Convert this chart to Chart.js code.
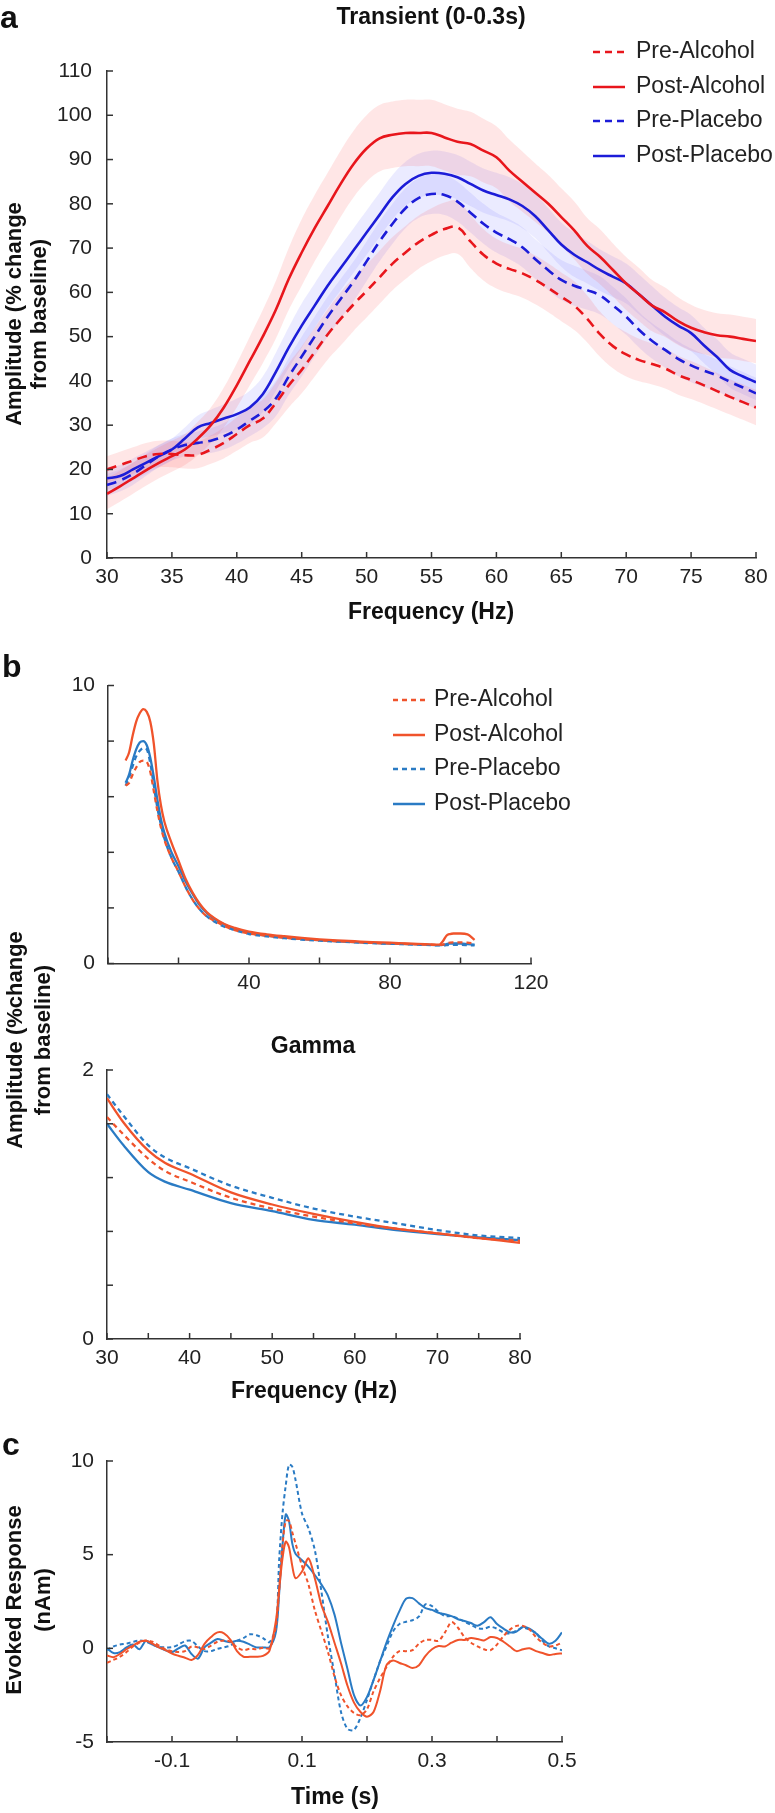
<!DOCTYPE html>
<html>
<head>
<meta charset="utf-8">
<script src="https://cdn.jsdelivr.net/npm/chart.js@4.4.1/dist/chart.umd.min.js"></script>
<style>
  body { margin: 0; background: #fff; }
  #page { position: relative; width: 775px; height: 1813px; overflow: hidden; }
  canvas { position: absolute; left: 0; }
</style>
</head>
<body>
<div id="page">
  <canvas id="chartA"></canvas>
  <canvas id="chartB1"></canvas>
  <canvas id="chartB2"></canvas>
  <canvas id="chartC"></canvas>
</div>
<script>
// ---- panel a: transient response, 30-80 Hz ----
const freqA = [30,31,32,33,34,35,36,37,38,39,40,41,42,43,44,45,46,47,48,49,50,51,52,53,54,55,56,57,58,59,60,61,62,63,64,65,66,67,68,69,70,71,72,73,74,75,76,77,78,79,80];
const preAlcA = [20,21,22,23,23.5,23.5,23.2,23.3,24.5,26,28,30,31.5,35,39,42.5,46.5,50.5,54,57.3,60.3,63.4,66.5,69,71.3,73,74.3,74.7,71.5,68.5,66.5,65.3,64.3,62.8,61,59,57,54,50.5,47.8,46,44.7,43.8,42.8,41.3,40.2,39,37.7,36.4,35.2,34];
const postAlcA = [14.5,16.2,18,19.8,21.5,23,24.5,27,30,34,39,44.5,50,56,63,69,74.5,79.5,84.5,89,92.5,94.8,95.6,96,96,96,95,94,93.5,92,90.5,87.5,85,82.5,80,77,74,70.5,68,65,62,59.5,57,55.5,53.5,52,51,50.3,50,49.5,49];
const prePlacA = [16.5,17.5,19,21,23,24.5,25.5,26,26.5,27.5,29,31,33,36,41,45.5,50,54.5,58.5,62.5,67,71.5,75.5,79,81.3,82.2,82,80.5,78,75.5,73.5,72,70.2,67.5,65,62.8,61.5,60.5,59.3,57,54.5,51.5,49,47,45,43.5,42.3,41.2,39.8,38.5,37.2];
const postPlacA = [18,18.5,20,21.5,23,24.5,27,29.5,30.5,31.5,32.5,34,37,42,47.5,52.5,57,61.5,65.5,69.5,73.5,77.5,81.5,84.5,86.3,87,86.8,86,84.5,83,82,81,79.5,77.2,74,70.8,68.5,66.8,65,63.5,62,59.5,57,54.5,52.5,50.8,48,45.4,42.5,41,39.7];
// shaded error (half-width of the bands)
const preAlcErr = [3,3,3,3,3,3,3,3,3.2,3.5,3.8,4,4.3,4.6,5,5.3,5.5,5.7,6,6,6,6,6,6,6,6,6,6,6,5.8,5.6,5.5,5.5,5.5,5.5,5.5,5.5,5.3,5.1,5,5,4.8,4.6,4.5,4.4,4.3,4.2,4.1,4,4,4];
const postAlcErr = [3.5,3.5,3.5,3.5,3.5,3.5,3.5,3.8,4,4.5,5,5.5,6,6.5,7,7.5,7.5,7.5,7.5,7.5,7.5,7.5,7.5,7.5,7.5,7.5,7.5,7.5,7.3,7.2,7,7,6.8,6.6,6.5,6.5,6.5,6.3,6.2,6,6,6,5.8,5.6,5.4,5.2,5,5,5,5,5];
const prePlacErr = [2.5,2.5,2.5,2.5,2.5,2.5,2.5,2.6,2.8,3,3.2,3.5,3.7,4,4.2,4.5,4.5,4.5,4.5,4.5,4.5,4.5,4.5,4.5,4.5,4.5,4.5,4.5,4.5,4.5,4.5,4.5,4.5,4.5,4.5,4.5,4.5,4.4,4.3,4.2,4.1,4,4,4,3.9,3.8,3.7,3.6,3.5,3.5,3.5];
const postPlacErr = [2.5,2.5,2.5,2.5,2.5,2.5,2.5,2.7,3,3.2,3.5,3.8,4,4.3,4.6,5,5,5,5,5,5,5,5,5,5,5,5,5,5,5,5,5,5,5,5,5,5,4.8,4.7,4.6,4.5,4.5,4.4,4.3,4.2,4.1,4,4,4,4,4];

// ---- panel b (top): full spectrum ----
const freqB = [5,6,7,8,9,10,11,12,13,14,15,16,18,20,22,24,26,28,30,33,36,40,45,50,55,60,65,70,75,80,85,90,94,95,96,97,98,100,102,104];
const preAlcB = [6.4,6.5,6.8,7.05,7.25,7.3,7.25,6.9,6.2,5.5,4.9,4.45,3.8,3.3,2.75,2.3,1.95,1.7,1.55,1.35,1.2,1.08,1,0.93,0.88,0.84,0.8,0.77,0.74,0.72,0.7,0.68,0.67,0.68,0.72,0.75,0.76,0.76,0.75,0.72];
const postAlcB = [7.3,7.6,8.2,8.7,9,9.15,9.05,8.7,7.9,6.6,5.7,5.1,4.35,3.7,3.05,2.55,2.15,1.85,1.65,1.42,1.28,1.15,1.05,0.98,0.92,0.87,0.83,0.8,0.77,0.75,0.72,0.7,0.68,0.8,1,1.06,1.08,1.08,1.05,0.85];
const prePlacB = [6.4,6.7,7.1,7.45,7.65,7.75,7.7,7.2,6.4,5.6,5,4.5,3.8,3.3,2.75,2.3,1.95,1.7,1.52,1.32,1.2,1.06,0.98,0.91,0.86,0.82,0.79,0.76,0.73,0.71,0.69,0.67,0.65,0.65,0.66,0.67,0.67,0.67,0.66,0.65];
const postPlacB = [6.5,6.8,7.3,7.7,7.95,8,7.85,7.4,6.7,5.9,5.2,4.7,4,3.5,2.95,2.5,2.1,1.82,1.62,1.4,1.25,1.1,1,0.93,0.88,0.84,0.8,0.77,0.74,0.72,0.7,0.68,0.66,0.67,0.7,0.72,0.72,0.72,0.7,0.68];

// ---- panel b (bottom): gamma ----
const freqG = [30,32,35,37,40,45,50,55,60,65,70,75,80];
const preAlcG = [1.65,1.52,1.34,1.25,1.17,1.05,0.97,0.91,0.86,0.82,0.785,0.75,0.73];
const postAlcG = [1.79,1.61,1.4,1.31,1.23,1.09,1,0.93,0.87,0.82,0.785,0.75,0.715];
const prePlacG = [1.82,1.66,1.44,1.35,1.27,1.14,1.05,0.97,0.91,0.86,0.81,0.77,0.75];
const postPlacG = [1.6,1.44,1.24,1.17,1.11,1.01,0.95,0.885,0.85,0.81,0.78,0.755,0.735];

// ---- panel c: evoked response ----
const timeC = [-0.2,-0.19,-0.18,-0.17,-0.16,-0.15,-0.14,-0.13,-0.12,-0.11,-0.1,-0.09,-0.08,-0.07,-0.06,-0.05,-0.04,-0.03,-0.02,-0.01,0,0.01,0.02,0.03,0.04,0.05,0.06,0.065,0.07,0.075,0.08,0.085,0.09,0.1,0.11,0.12,0.13,0.14,0.15,0.16,0.17,0.18,0.19,0.2,0.21,0.22,0.23,0.24,0.25,0.26,0.27,0.28,0.29,0.3,0.31,0.32,0.33,0.34,0.35,0.36,0.37,0.38,0.39,0.4,0.41,0.42,0.43,0.44,0.45,0.46,0.47,0.48,0.49,0.5];
const preAlcC = [-0.77,-0.62,-0.45,-0.2,0.1,0.3,0.42,0.35,0.15,-0.05,-0.15,-0.2,-0.15,0.1,0.05,-0.03,0.15,0.35,0.42,0.35,0.05,-0.1,-0.02,-0.05,0.03,0,1.2,3.2,5.5,6.8,6.8,6.2,5.6,4.4,3.4,2,0.9,-0.2,-1.5,-2.5,-3.1,-3.45,-3.57,-3.25,-2.3,-1.6,-1,-0.45,-0.15,-0.15,-0.1,0.25,0.45,0.45,0.4,0.85,1.4,1.1,0.6,0.3,0.1,-0.05,-0.1,0.2,0.65,1,1.2,1.2,1,0.6,0.3,0.1,0.15,0.3];
const postAlcC = [-0.38,-0.47,-0.3,-0.05,0.15,0.35,0.4,0.25,0.05,-0.1,-0.28,-0.4,-0.5,-0.62,-0.35,0.24,0.6,0.85,0.8,0.45,-0.15,-0.45,-0.45,-0.45,-0.4,-0.12,1.5,3.2,4.8,5.7,5.4,4.4,3.75,4.1,4.8,3.7,2.3,1.4,0.3,-0.8,-2,-2.9,-3.4,-3.65,-3.4,-2.3,-0.9,-0.65,-0.78,-0.9,-1.05,-0.9,-0.4,-0.05,0.12,0.1,0.3,0.45,0.45,0.55,0.5,0.42,0.6,0.55,0.35,0.1,-0.15,-0.05,0,-0.15,-0.25,-0.35,-0.3,-0.27];
const prePlacC = [-0.1,0.1,0.2,0.25,0.35,0.42,0.35,0.2,0.08,0.05,0.06,0.2,0.38,0.4,0.1,-0.15,-0.15,-0.02,0.05,0.15,0.4,0.55,0.75,0.7,0.55,0.33,1.2,4.8,7.2,8.7,9.8,9.7,9,7.2,6.4,5.2,3,0.6,-1.4,-3.4,-4.3,-4.35,-3.7,-2.75,-1.7,-0.7,0.1,0.9,1.3,1.42,1.5,1.7,2.35,2.25,1.95,1.72,1.72,1.6,1.42,1.25,1.08,1.05,1.15,1.05,0.85,0.8,0.95,1.1,1,0.8,0.4,0.1,0,-0.1];
const postPlacC = [0,-0.25,-0.2,0.05,0.2,-0.05,0.4,0.2,0.05,-0.1,-0.2,0,0.15,-0.3,-0.55,0.05,0.3,0.5,0.4,0.33,0.4,0.35,0.2,0.05,0.05,0.06,0.9,3,5.5,7.15,6.8,5.6,5.05,4.7,4.35,3.9,3.4,2.8,1.8,0.3,-1.1,-2.5,-3.05,-2.6,-1.7,-0.7,0.3,1.2,2,2.65,2.68,2.4,2.15,2.05,1.9,1.82,1.72,1.55,1.46,1.35,1.2,1.4,1.66,1.3,1.05,0.85,0.9,1.15,1.05,0.8,0.5,0.25,0.4,0.85];

const labelsLegend = ['Pre-Alcohol', 'Post-Alcohol', 'Pre-Placebo', 'Post-Placebo'];

const FONT = '"Liberation Sans", Arial, Helvetica, sans-serif';
const AXIS = '#333';
const RED = '#e8161c', BLUE = '#1c1cd8';        // panel a
const ORANGE = '#f0532b', SKY = '#2a7bc4';      // panels b, c

function pts(xs, ys) {
  return xs.map((x, i) => ({ x: x, y: ys[i] }));
}

function line(label, xs, ys, color, dash, width, tension) {
  return {
    label: label, data: pts(xs, ys), borderColor: color, borderWidth: width,
    borderDash: dash, fill: false, pointRadius: 0, tension: tension,
    inLegend: true, order: 1
  };
}

// upper + lower edge, the upper one fills down to the next dataset
function band(xs, mean, err, color) {
  return [
    { data: pts(xs, mean.map((v, i) => v + err[i])), borderColor: 'rgba(0,0,0,0)', borderWidth: 0,
      backgroundColor: color, fill: '+1', pointRadius: 0, tension: 0.4, order: 2 },
    { data: pts(xs, mean.map((v, i) => v - err[i])), borderColor: 'rgba(0,0,0,0)', borderWidth: 0,
      fill: false, pointRadius: 0, tension: 0.4, order: 2 }
  ];
}

// text, legends and inward tick marks, in page coordinates
const decorInfo = {
  chartA: {
    top: 0,
    texts: [
      { text: 'a', x: 0, y: 28, font: 'bold 32px ' + FONT, align: 'left', base: 'alphabetic' },
      { text: 'Transient (0-0.3s)', x: 431, y: 18, font: 'bold 23px ' + FONT },
      { text: 'Frequency (Hz)', x: 431, y: 613, font: 'bold 23px ' + FONT },
      { text: 'Amplitude (% change', x: 15, y: 314, rot: -Math.PI / 2, font: 'bold 22px ' + FONT },
      { text: 'from baseline)', x: 40, y: 314, rot: -Math.PI / 2, font: 'bold 22px ' + FONT }
    ],
    legend: { x0: 593, x1: 625, tx: 636, rows: [52, 87, 121, 156], font: '23px ' + FONT, width: 2.5, dash: [7, 5] }
  },
  chartB1: {
    top: 640,
    texts: [
      { text: 'b', x: 2, y: 677, font: 'bold 32px ' + FONT, align: 'left', base: 'alphabetic' }
    ],
    legend: { x0: 393, x1: 425, tx: 434, rows: [700, 735, 769, 804], font: '23px ' + FONT, width: 2.5, dash: [5, 4] }
  },
  chartB2: {
    top: 880,
    texts: [
      { text: 'Gamma', x: 313, y: 1047, font: 'bold 23px ' + FONT },
      { text: 'Frequency (Hz)', x: 314, y: 1392, font: 'bold 23px ' + FONT },
      { text: 'Amplitude (%change', x: 16, y: 1040, rot: -Math.PI / 2, font: 'bold 22px ' + FONT },
      { text: 'from baseline)', x: 44, y: 1040, rot: -Math.PI / 2, font: 'bold 22px ' + FONT }
    ]
  },
  chartC: {
    top: 1420,
    texts: [
      { text: 'c', x: 2, y: 1455, font: 'bold 32px ' + FONT, align: 'left', base: 'alphabetic' },
      { text: 'Time (s)', x: 335, y: 1798, font: 'bold 23px ' + FONT },
      { text: 'Evoked Response', x: 15, y: 1600, rot: -Math.PI / 2, font: 'bold 22px ' + FONT },
      { text: '(nAm)', x: 44, y: 1600, rot: -Math.PI / 2, font: 'bold 22px ' + FONT }
    ]
  }
};

const decor = {
  id: 'decor',
  afterDraw(chart) {
    const info = decorInfo[chart.canvas.id];
    const ctx = chart.ctx;
    const off = info.top;
    const xs = chart.scales.x, ys = chart.scales.y;
    ctx.save();
    ctx.strokeStyle = AXIS;
    ctx.lineWidth = 1.5;
    xs.ticks.forEach(t => {
      const p = xs.getPixelForValue(t.value);
      ctx.beginPath(); ctx.moveTo(p, xs.top); ctx.lineTo(p, xs.top - 6); ctx.stroke();
    });
    ys.ticks.forEach(t => {
      const p = ys.getPixelForValue(t.value);
      ctx.beginPath(); ctx.moveTo(ys.right, p); ctx.lineTo(ys.right + 6, p); ctx.stroke();
    });
    info.texts.forEach(t => {
      ctx.save();
      ctx.font = t.font;
      ctx.fillStyle = '#111';
      ctx.textAlign = t.align || 'center';
      ctx.textBaseline = t.base || 'middle';
      ctx.translate(t.x, t.y - off);
      if (t.rot) ctx.rotate(t.rot);
      ctx.fillText(t.text, 0, 0);
      ctx.restore();
    });
    const lg = info.legend;
    if (lg) {
      let i = 0;
      chart.data.datasets.forEach(ds => {
        if (!ds.inLegend) return;
        const y = lg.rows[i++] - off;
        ctx.save();
        ctx.strokeStyle = ds.borderColor;
        ctx.lineWidth = lg.width;
        ctx.setLineDash(ds.borderDash.length ? lg.dash : []);
        ctx.beginPath(); ctx.moveTo(lg.x0, y); ctx.lineTo(lg.x1, y); ctx.stroke();
        ctx.restore();
        ctx.font = lg.font;
        ctx.fillStyle = '#222';
        ctx.textAlign = 'left';
        ctx.textBaseline = 'middle';
        ctx.fillText(ds.label, lg.tx, y);
      });
    }
    ctx.restore();
  }
};

const XH = 34; // fixed height of every x axis box

function panel(id, geo, datasets, xo, yo) {
  const cv = document.getElementById(id);
  cv.width = 775;
  cv.height = geo.h;
  cv.style.top = geo.top + 'px';
  const tickFont = { family: FONT, size: 21 };
  return new Chart(cv, {
    type: 'line',
    data: { datasets: datasets },
    options: {
      responsive: false,
      animation: false,
      devicePixelRatio: 1,
      layout: {
        padding: {
          left: 0,
          right: 775 - geo.right,
          top: geo.plotTop - geo.top,
          bottom: geo.top + geo.h - geo.plotBottom - XH
        }
      },
      plugins: { legend: { display: false }, tooltip: { enabled: false } },
      scales: {
        x: {
          type: 'linear', min: xo.min, max: xo.max,
          afterFit: s => { s.height = XH; },
          grid: { display: false, drawTicks: false },
          border: { display: true, color: AXIS, width: 1.5 },
          ticks: { stepSize: xo.step, autoSkip: false, maxRotation: 0, padding: 7,
                   color: '#222', font: tickFont, callback: xo.label }
        },
        y: {
          type: 'linear', min: yo.min, max: yo.max,
          afterFit: s => { s.width = geo.left; },
          grid: { display: false, drawTicks: false },
          border: { display: true, color: AXIS, width: 1.5 },
          ticks: { stepSize: yo.step, padding: yo.pad, color: '#222', font: tickFont, callback: yo.label }
        }
      }
    },
    plugins: [decor]
  });
}

const near = (v, list) => list.some(t => Math.abs(t - v) < 1e-6);

// panel a
const pinkBand = 'rgba(255, 60, 60, 0.13)';
const blueBand = 'rgba(70, 70, 255, 0.11)';
panel('chartA',
  { top: 0, h: 640, left: 107, right: 756, plotTop: 71, plotBottom: 558 },
  [].concat(
    band(freqA, postAlcA, postAlcErr, pinkBand),
    band(freqA, preAlcA, preAlcErr, pinkBand),
    band(freqA, postPlacA, postPlacErr, blueBand),
    band(freqA, prePlacA, prePlacErr, blueBand),
    [
      line(labelsLegend[0], freqA, preAlcA, RED, [10, 6], 2.6, 0.4),
      line(labelsLegend[1], freqA, postAlcA, RED, [], 2.6, 0.4),
      line(labelsLegend[2], freqA, prePlacA, BLUE, [10, 6], 2.6, 0.4),
      line(labelsLegend[3], freqA, postPlacA, BLUE, [], 2.6, 0.4)
    ]
  ),
  { min: 30, max: 80, step: 5, label: v => v },
  { min: 0, max: 110, step: 10, pad: 15, label: v => v }
);

// panel b, top
function monotone(ds) { ds.cubicInterpolationMode = 'monotone'; return ds; }
panel('chartB1',
  { top: 640, h: 360, left: 108, right: 531, plotTop: 685.5, plotBottom: 963.5 },
  [
    monotone(line(labelsLegend[0], freqB, preAlcB, ORANGE, [5, 4], 2.3, 0)),
    monotone(line(labelsLegend[1], freqB, postAlcB, ORANGE, [], 2.3, 0)),
    monotone(line(labelsLegend[2], freqB, prePlacB, SKY, [5, 4], 2.3, 0)),
    monotone(line(labelsLegend[3], freqB, postPlacB, SKY, [], 2.3, 0))
  ],
  { min: 0, max: 120, step: 20, label: v => (near(v, [40, 80, 120]) ? v : '') },
  { min: 0, max: 10, step: 1, pad: 13, label: v => (near(v, [0, 5, 10]) ? v : '') }
);

// panel b, bottom (gamma)
panel('chartB2',
  { top: 880, h: 540, left: 107, right: 520, plotTop: 1070, plotBottom: 1339 },
  [
    monotone(line(labelsLegend[0], freqG, preAlcG, ORANGE, [5, 4], 2.3, 0)),
    monotone(line(labelsLegend[1], freqG, postAlcG, ORANGE, [], 2.3, 0)),
    monotone(line(labelsLegend[2], freqG, prePlacG, SKY, [5, 4], 2.3, 0)),
    monotone(line(labelsLegend[3], freqG, postPlacG, SKY, [], 2.3, 0))
  ],
  { min: 30, max: 80, step: 5, label: v => (near(v, [30, 40, 50, 60, 70, 80]) ? v : '') },
  { min: 0, max: 2, step: 0.2, pad: 13, label: v => (near(v, [0, 1, 2]) ? Math.round(v) : '') }
);

// panel c
panel('chartC',
  { top: 1420, h: 393, left: 107, right: 562, plotTop: 1461, plotBottom: 1742 },
  [
    line(labelsLegend[0], timeC, preAlcC, ORANGE, [4, 3], 2, 0.3),
    line(labelsLegend[1], timeC, postAlcC, ORANGE, [], 2, 0.3),
    line(labelsLegend[2], timeC, prePlacC, SKY, [4, 3], 2, 0.3),
    line(labelsLegend[3], timeC, postPlacC, SKY, [], 2, 0.3)
  ],
  { min: -0.2, max: 0.5, step: 0.1, label: v => (near(v, [-0.1, 0.1, 0.3, 0.5]) ? v.toFixed(1) : '') },
  { min: -5, max: 10, step: 5, pad: 13, label: v => v }
);
</script>
</body>
</html>
